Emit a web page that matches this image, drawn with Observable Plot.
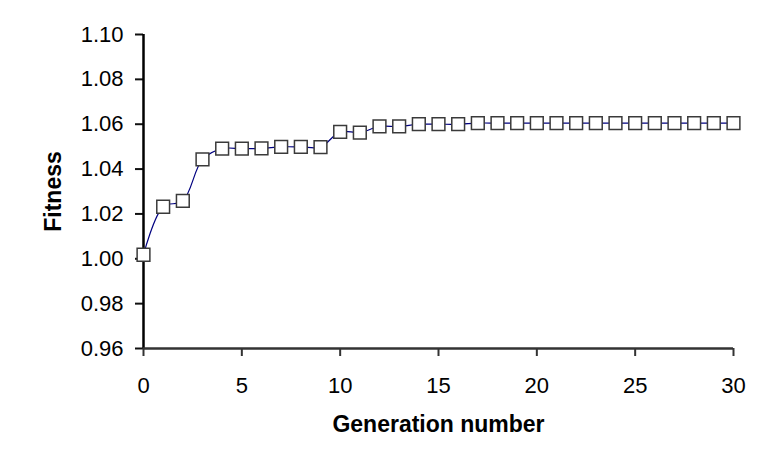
<!DOCTYPE html>
<html>
<head>
<meta charset="utf-8">
<script src="https://cdn.jsdelivr.net/npm/d3@7"></script>
<script src="https://cdn.jsdelivr.net/npm/@observablehq/plot@0.6"></script>
<style>
  html, body { margin: 0; padding: 0; background: #fff; }
  svg { font-family: "Liberation Sans", Arial, sans-serif; }
</style>
</head>
<body>
<div id="chart"></div>
<script>
const generation = [0,1,2,3,4,5,6,7,8,9,10,11,12,13,14,15,16,17,18,19,20,21,22,23,24,25,26,27,28,29,30];
const fitness = [1.0018, 1.0232, 1.0258, 1.0443, 1.0491, 1.0491, 1.0492, 1.0499, 1.0499, 1.0498, 1.0566, 1.0563, 1.0590, 1.0590, 1.0600, 1.0600, 1.0600, 1.0605, 1.0605, 1.0605, 1.0605, 1.0605, 1.0605, 1.0605, 1.0605, 1.0605, 1.0605, 1.0605, 1.0605, 1.0605, 1.0605];
const yTicks = [0.96, 0.98, 1.00, 1.02, 1.04, 1.06, 1.08, 1.10];
const xTicks = [0, 5, 10, 15, 20, 25, 30];

const data = generation.map((g, i) => ({g, f: fitness[i]}));

const chart = Plot.plot({
  width: 778,
  height: 458,
  marginLeft: 143,
  marginRight: 45,
  marginTop: 34,
  marginBottom: 110,
  style: {fontSize: "22px", fontFamily: "'Liberation Sans', Arial, sans-serif", color: "#000", background: "#fff"},
  x: {domain: [0, 30]},
  y: {domain: [0.96, 1.10]},
  marks: [
    Plot.axisY({ticks: yTicks, tickFormat: d3.format(".2f"), tickSize: 8, tickPadding: 12, strokeWidth: 2, stroke: "#111",
      label: null}),
    Plot.axisX({ticks: xTicks, tickSize: 8, tickPadding: 21, strokeWidth: 2, stroke: "#333",
      label: null}),
    Plot.text(["Fitness"], {frameAnchor: "left", dx: -90, rotate: -90, textAnchor: "middle", lineAnchor: "middle", fontSize: 23, fontWeight: "bold", fill: "#000"}),
    Plot.text(["Generation number"], {frameAnchor: "bottom", dy: 76, textAnchor: "middle", lineAnchor: "middle", fontSize: 23, fontWeight: "bold", fill: "#000"}),
    Plot.ruleX([0], {stroke: "#000", strokeWidth: 2.5}),
    Plot.ruleY([0.96], {stroke: "#333", strokeWidth: 2.5}),
    Plot.line(data, {x: "g", y: "f", stroke: "#000080", strokeWidth: 1.2, curve: "catmull-rom"}),
    Plot.dot(data, {x: "g", y: "f", symbol: "square", r: 7.2, fill: "#fff", stroke: "#3a3a3a", strokeWidth: 1.5})
  ]
});
document.getElementById("chart").appendChild(chart);
</script>
</body>
</html>
